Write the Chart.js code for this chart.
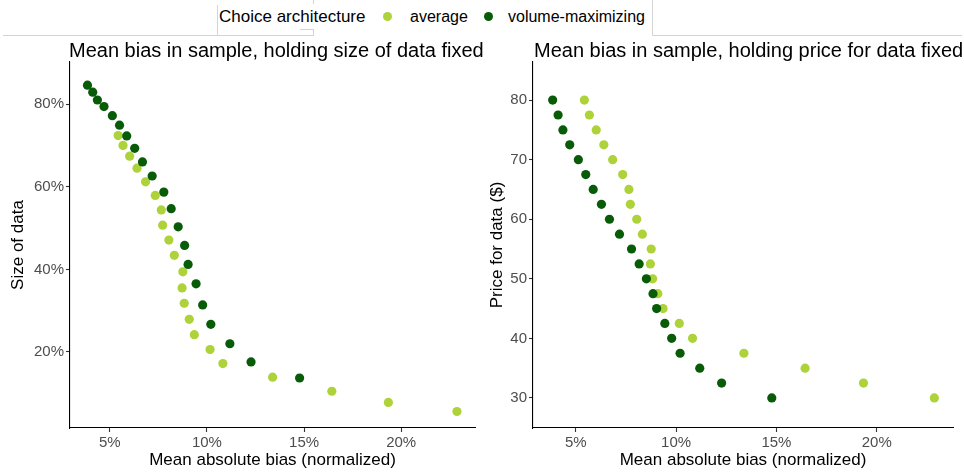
<!DOCTYPE html>
<html><head><meta charset="utf-8">
<script src="https://cdn.jsdelivr.net/npm/chart.js@4.4.0/dist/chart.umd.min.js"></script>
<style>
html,body{margin:0;padding:0;background:#fff}
body{width:964px;height:476px;overflow:hidden;position:relative;font-family:"Liberation Sans",Arial,sans-serif}
.abs{position:absolute}
.ln{position:absolute;background:#d4d4d4}
.ttl{position:absolute;font-size:20px;line-height:20px;color:#000;white-space:nowrap}
.leg{position:absolute;top:8px;line-height:18px;color:#000;white-space:nowrap}
.dot{position:absolute;width:9px;height:9px;border-radius:50%;top:12px}
canvas{position:absolute}
</style></head><body>
<canvas id="cLeft" width="480" height="436" style="left:0;top:40px"></canvas>
<canvas id="cRight" width="484" height="436" style="left:480px;top:40px"></canvas>

<div class="ln" style="left:3px;top:35px;width:311px;height:1px"></div>
<div class="ln" style="left:217px;top:5px;width:1px;height:30px"></div>
<div class="ln" style="left:313px;top:0px;width:1px;height:4px"></div>
<div class="ln" style="left:300px;top:29px;width:14px;height:1px"></div>
<div class="ln" style="left:313px;top:29px;width:1px;height:6px"></div>
<div class="ln" style="left:652px;top:0px;width:1px;height:35px"></div>
<div class="ln" style="left:652px;top:35px;width:310px;height:1px"></div>

<div class="leg" id="legTitle" style="left:219px;font-size:17px"></div>
<div class="dot" id="dotA" style="left:383px"></div>
<div class="leg" id="legA" style="left:410px;font-size:16px"></div>
<div class="dot" id="dotV" style="left:484px"></div>
<div class="leg" id="legV" style="left:508px;font-size:16px"></div>

<div class="ttl" id="titleLeft" style="left:69px;top:40px"></div>
<div class="ttl" id="titleRight" style="left:534px;top:40px"></div>

<script>
// ---- data ----
const seriesNames = ["average", "volume-maximizing"];
const seriesColors = ["#aed23a", "#085c08"];
const legendTitle = "Choice architecture";
const titles = ["Mean bias in sample, holding size of data fixed", "Mean bias in sample, holding price for data fixed"];
const xTitle = "Mean absolute bias (normalized)";
const yTitles = ["Size of data", "Price for data ($)"];

// price for data ($), one value per scenario
const priceForData = [80, 77.5, 75, 72.5, 70, 67.5, 65, 62.5, 60, 57.5, 55, 52.5, 50, 47.5, 45, 42.5, 40, 37.5, 35, 32.5, 30];
// mean absolute bias (%), average choice architecture
const biasAverage = [5.43, 5.68, 6.02, 6.40, 6.84, 7.34, 7.65, 7.72, 8.04, 8.32, 8.76, 8.72, 8.83, 9.09, 9.35, 10.16, 10.82, 13.38, 16.43, 19.34, 22.87];
// mean absolute bias (%), volume-maximizing choice architecture
const biasVolume = [3.85, 4.12, 4.36, 4.70, 5.13, 5.50, 5.87, 6.28, 6.68, 7.18, 7.78, 8.16, 8.52, 8.85, 9.03, 9.44, 9.78, 10.20, 11.18, 12.27, 14.77];
// size of data (%), average
const sizeAverage = [72.4, 70.0, 67.4, 64.5, 61.2, 57.9, 54.4, 50.7, 47.1, 43.4, 39.4, 35.5, 31.8, 27.9, 24.2, 20.6, 17.2, 13.9, 10.5, 7.8, 5.6];
// size of data (%), volume-maximizing
const sizeVolume = [84.6, 82.9, 81.0, 79.4, 77.2, 74.9, 72.3, 69.3, 66.0, 62.6, 58.7, 54.7, 50.3, 45.8, 41.2, 36.5, 31.4, 26.7, 22.0, 17.6, 13.7];

const biasTicks = [5, 10, 15, 20];
const sizeTicks = [20, 40, 60, 80];
const priceTicks = [30, 40, 50, 60, 70, 80];

// ---- text ----
document.getElementById('legTitle').textContent = legendTitle;
document.getElementById('legA').textContent = seriesNames[0];
document.getElementById('legV').textContent = seriesNames[1];
document.getElementById('dotA').style.background = seriesColors[0];
document.getElementById('dotV').style.background = seriesColors[1];
document.getElementById('titleLeft').textContent = titles[0];
document.getElementById('titleRight').textContent = titles[1];

const FONT = '"Liberation Sans", Arial, sans-serif';

function pts(xs, ys) { return xs.map((x, i) => ({x: x, y: ys[i]})); }

function makeChart(id, yA, yV, yTicks, yTitle, yFmt, opts) {
  const fixTicks = vals => scale => { scale.ticks = vals.map(v => ({value: v})); };
  return new Chart(document.getElementById(id), {
    type: 'scatter',
    data: {
      datasets: [
        {label: seriesNames[0], data: pts(biasAverage, yA), backgroundColor: seriesColors[0], borderWidth: 0, pointRadius: 4.6, order: 2},
        {label: seriesNames[1], data: pts(biasVolume, yV), backgroundColor: seriesColors[1], borderWidth: 0, pointRadius: 4.6, order: 1}
      ]
    },
    options: {
      responsive: false, animation: false,
      layout: {padding: {top: 22, right: opts.padRight, left: 0, bottom: 0}},
      plugins: {legend: {display: false}, tooltip: {enabled: false}, title: {display: false}},
      scales: {
        x: {
          type: 'linear', min: opts.xMin, max: opts.xMax,
          afterBuildTicks: fixTicks(biasTicks),
          afterFit: s => { s.height = 48; },
          border: {display: true, color: '#000', width: 1.1},
          grid: {display: true, drawOnChartArea: false, drawTicks: true, tickLength: 4, color: '#333', tickWidth: 1.1},
          ticks: {color: '#4d4d4d', font: {family: FONT, size: 15}, padding: 2, callback: v => v + '%'},
          title: {display: true, text: xTitle, color: '#000', font: {family: FONT, size: 17}, padding: {top: 0, bottom: 5}}
        },
        y: {
          type: 'linear', min: opts.yMin, max: opts.yMax,
          afterBuildTicks: fixTicks(yTicks),
          afterFit: s => { s.width = opts.yWidth; },
          border: {display: true, color: '#000', width: 1.1},
          grid: {display: true, drawOnChartArea: false, drawTicks: true, tickLength: 4, color: '#333', tickWidth: 1.1},
          ticks: {color: '#4d4d4d', font: {family: FONT, size: 15}, padding: 2, callback: yFmt},
          title: {display: true, text: yTitle, color: '#000', font: {family: FONT, size: 17}, padding: {top: opts.yTitlePad, bottom: 0}}
        }
      }
    }
  });
}

makeChart('cLeft', sizeAverage, sizeVolume, sizeTicks, yTitles[0], v => v + '%',
  {xMin: 2.95, xMax: 23.8, yMin: 1.6, yMax: 90.2, yWidth: 70, padRight: 5, yTitlePad: 8});
makeChart('cRight', priceForData, priceForData, priceTicks, yTitles[1], v => String(v),
  {xMin: 2.87, xMax: 23.8, yMin: 24.95, yMax: 86.4, yWidth: 53, padRight: 11, yTitlePad: 7});
</script>
</body></html>
